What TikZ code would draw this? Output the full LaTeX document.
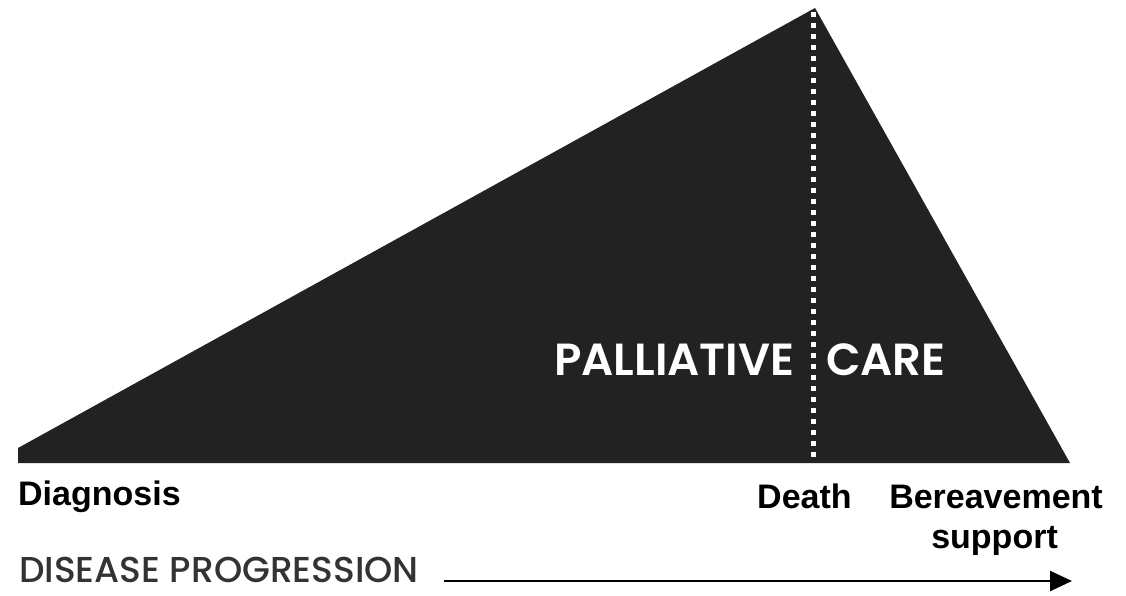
\documentclass[tikz,border=0pt]{standalone}
\usepackage{fontspec}
\setmainfont{Liberation Sans}
\newfontfamily\pop{Poppins}[UprightFont=* Medium]
\newfontfamily\popsb{Poppins}[UprightFont=* SemiBold]
\usetikzlibrary{arrows.meta}
\definecolor{tri}{HTML}{222222}
\definecolor{prog}{HTML}{333333}
\tikzset{
  x=1pt,y=-1pt,
  lbl/.style={inner sep=0pt,font=\fontsize{34}{36}\selectfont\bfseries,text=black},
  pal/.style={inner sep=0pt,font=\popsb\fontsize{45}{47}\selectfont,text=white},
}
\begin{document}
\begin{tikzpicture}
\useasboundingbox (0,0) rectangle (1126,595);
\coordinate (L) at (18,463);
\coordinate (T) at (815,8);
\coordinate (R) at (1070,463);
\fill[tri] (18,448) -- (T) -- (R) -- (L) -- cycle;
\coordinate (dtop) at (813,12);
\coordinate (dbot) at (813,462);
\draw[white,line width=5pt,dash pattern=on 5pt off 6pt] (dtop) -- (dbot);
\node[pal,anchor=base west] (pall) at (554,375) {PALLIATIVE};
\node[pal,anchor=base west] (care) at (826,375) {CARE};
\node[lbl,anchor=base west] (diag) at (18,505) {Diagnosis};
\node[lbl,anchor=base west] (death) at (757,508) {Death};
\node[lbl,anchor=base east] (ber) at (1103,508) {Bereavement};
\node[lbl,anchor=base east] (sup) at (1058,548) {support};
\node[anchor=base west,inner sep=0pt,text=prog,font=\pop\fontsize{36}{38}\selectfont] (dp) at (19,582) {DISEASE PROGRESSION};
\coordinate (aend) at (1072,581);
\draw[line width=2.5pt,-{Triangle[length=22pt,width=20pt]}] ([xshift=25pt]dp.east |- aend) -- (aend);
\end{tikzpicture}
\end{document}
